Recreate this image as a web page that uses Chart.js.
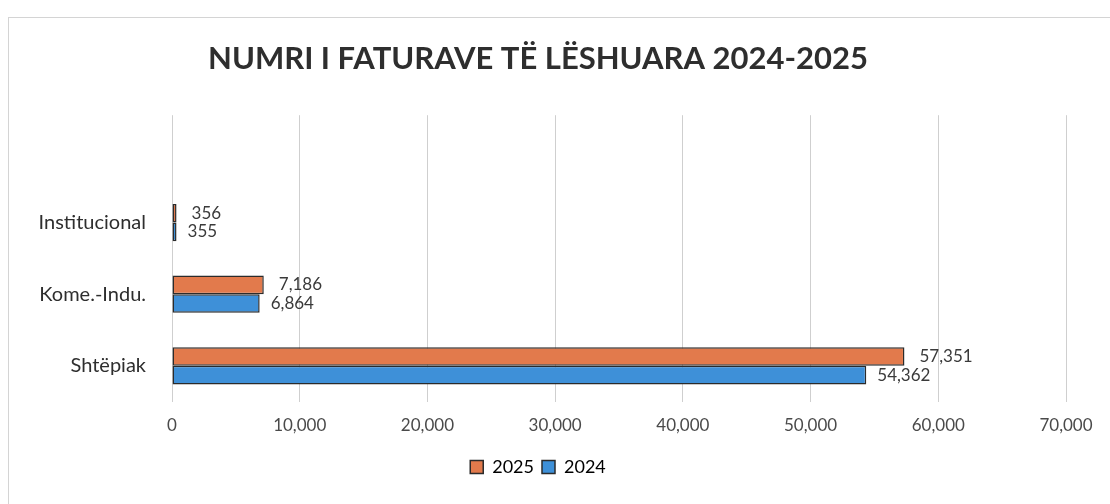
<!DOCTYPE html>
<html>
<head>
<meta charset="utf-8">
<script src="https://cdn.jsdelivr.net/npm/chart.js@4.4.1/dist/chart.umd.min.js"></script>
<style>
  html, body { margin: 0; padding: 0; background: #ffffff; }
  #wrap { width: 1110px; height: 504px; position: relative; }
</style>
</head>
<body>
<div id="wrap"><canvas id="faturatChart"></canvas></div>
<script>
// Kategoritë (rreshti i parë bosh, si në grafikun origjinal)
const categories = ['', 'Institucional', 'Kome.-Indu.', 'Shtëpiak'];
const values2025 = [null, 356, 7186, 57351];
const values2024 = [null, 355, 6864, 54362];
const xTicks = [0, 10000, 20000, 30000, 40000, 50000, 60000, 70000];

const orange = '#e27a4c';
const blue = '#3e90d8';

// Etiketat e vlerave pas fundit të shiritit
const valueLabels = {
    id: 'valueLabels',
    afterDatasetsDraw(chart) {
        const ctx = chart.ctx;
        ctx.save();
        ctx.font = '17px Lato';
        ctx.fillStyle = '#3a3a3a';
        ctx.textBaseline = 'middle';
        chart.data.datasets.forEach((ds, i) => {
            const meta = chart.getDatasetMeta(i);
            meta.data.forEach((bar, j) => {
                const v = ds.data[j];
                if (v === null) return;
                const off = i === 0 ? 15 : 11;
                ctx.fillText(v.toLocaleString('en-US'), bar.x + off, bar.y);
            });
        });
        ctx.restore();
    }
};

// Korniza e lehtë rreth grafikut
const frame = {
    id: 'frame',
    beforeDraw(chart) {
        const ctx = chart.ctx;
        ctx.save();
        ctx.fillStyle = '#ffffff';
        ctx.fillRect(0, 0, chart.width, chart.height);
        ctx.strokeStyle = '#d4d4d4';
        ctx.lineWidth = 1;
        ctx.strokeRect(8.5, 17.5, chart.width - 8, chart.height);
        ctx.restore();
    }
};

const ctx = document.getElementById('faturatChart');
new Chart(ctx, {
    type: 'bar',
    data: {
        labels: categories,
        datasets: [
            {
                label: '2025',
                data: values2025,
                backgroundColor: orange,
                borderColor: '#2b2b2b',
                borderWidth: 1.5,
                borderSkipped: false
            },
            {
                label: '2024',
                data: values2024,
                backgroundColor: blue,
                borderColor: '#2b2b2b',
                borderWidth: 1.5,
                borderSkipped: false
            }
        ]
    },
    options: {
        indexAxis: 'y',
        responsive: true,
        maintainAspectRatio: false,
        animation: false,
        categoryPercentage: 0.52,
        barPercentage: 1.0,
        layout: { padding: { left: 10, right: 44, top: 40, bottom: 18 } },
        plugins: {
            title: {
                display: true,
                text: 'NUMRI I FATURAVE TË LËSHUARA 2024-2025',
                color: '#2e2e2e',
                font: { family: 'Lato', size: 31, weight: 'bold' },
                padding: { top: 0, bottom: 38 }
            },
            legend: {
                position: 'bottom',
                labels: {
                    color: '#3a3a3a',
                    font: { family: 'Lato', size: 18 },
                    boxWidth: 13,
                    boxHeight: 13,
                    padding: 8,
                    generateLabels(chart) {
                        return chart.data.datasets.map((ds, i) => ({
                            text: ds.label,
                            fillStyle: ds.backgroundColor,
                            strokeStyle: '#2b2b2b',
                            lineWidth: 1.5,
                            datasetIndex: i
                        }));
                    }
                }
            },
            tooltip: { enabled: false }
        },
        scales: {
            x: {
                min: 0,
                max: 70000,
                afterBuildTicks(scale) {
                    scale.ticks = xTicks.map(v => ({ value: v }));
                },
                grid: { color: '#cfcfcf', lineWidth: 1, drawTicks: false },
                border: { display: false },
                ticks: {
                    color: '#4a4a4a',
                    padding: 14,
                    font: { family: 'Lato', size: 17 },
                    callback: v => v.toLocaleString('en-US')
                }
            },
            y: {
                grid: { display: false, drawTicks: false },
                border: { display: false },
                afterFit(scale) { scale.width = 162; },
                ticks: {
                    color: '#2e2e2e',
                    padding: 26,
                    font: { family: 'Lato', size: 20 }
                }
            }
        }
    },
    plugins: [frame, valueLabels]
});
</script>
</body>
</html>
